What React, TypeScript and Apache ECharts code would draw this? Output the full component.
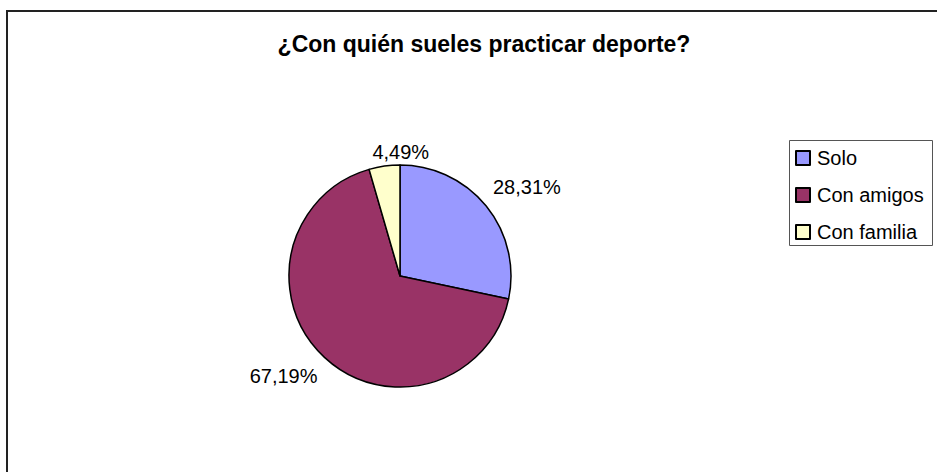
import React, { useEffect, useRef } from "react";
import * as echarts from "echarts";

const titleText = "¿Con quién sueles practicar deporte?";
const categories = ["Solo", "Con amigos", "Con familia"];
const values = [28.31, 67.19, 4.49];
const colors = ["#9999FF", "#993366", "#FFFFCC"];

// style: label placement nudges (px) relative to computed polar position
const labelNudges = [
  [6, 9],
  [-12, -12],
  [20, 12],
];

const FONT = "'Liberation Sans', Arial, Helvetica, sans-serif";

export default function App() {
  const ref = useRef<HTMLDivElement>(null);

  useEffect(() => {
    if (!ref.current) return;
    const chart = echarts.init(ref.current, null, { renderer: "svg" });
    const cx = 400;
    const cy = 276;
    const r = 111;
    const total = values.reduce((a, b) => a + b, 0);
    const mids: number[] = [];
    let cum = 0;
    values.forEach((v) => {
      mids.push(((cum + v / 2) / total) * 2 * Math.PI);
      cum += v;
    });

    chart.setOption({
      animation: false,
      backgroundColor: "#ffffff",
      title: {
        text: titleText,
        left: 479,
        textAlign: "center",
        top: 27,
        textStyle: {
          fontFamily: FONT,
          fontWeight: "bold",
          fontSize: 23,
          color: "#000",
        },
      },
      legend: {
        orient: "vertical",
        left: 795,
        top: 147,
        padding: 0,
        itemWidth: 14,
        itemHeight: 14,
        itemGap: 15,
        icon: "rect",
        data: categories,
        textStyle: {
          fontFamily: FONT,
          fontSize: 20,
          lineHeight: 22,
          color: "#000",
          padding: [0, 0, 0, 2],
        },
      },
      graphic: [
        {
          type: "rect",
          shape: { x: 7, y: 11, width: 960, height: 500 },
          style: { fill: "none", stroke: "#222", lineWidth: 2 },
          silent: true,
        },
        {
          type: "rect",
          shape: { x: 789.5, y: 140.5, width: 143, height: 105 },
          style: { fill: "none", stroke: "#555", lineWidth: 1 },
          silent: true,
        },
      ],
      series: [
        {
          type: "pie",
          center: [cx, cy],
          radius: r,
          startAngle: 90,
          clockwise: true,
          data: categories.map((name, i) => ({
            name,
            value: values[i],
            itemStyle: { color: colors[i] },
          })),
          itemStyle: { borderColor: "#000", borderWidth: 1.5 },
          emphasis: { disabled: true },
          label: {
            show: true,
            position: "outside",
            formatter: (p: any) =>
              values[p.dataIndex].toFixed(2).replace(".", ",") + "%",
            fontFamily: FONT,
            fontSize: 20,
            color: "#000",
          },
          labelLine: { show: false },
          labelLayout: (params: any) => {
            const i = params.dataIndex;
            const a = mids[i];
            const ux = Math.sin(a);
            const uy = -Math.cos(a);
            const w = params.labelRect.width;
            const h = params.labelRect.height;
            const ext = (w / 2) * Math.abs(ux) + (h / 2) * Math.abs(uy);
            const d = r + 12 + ext;
            return {
              x: cx + ux * d + labelNudges[i][0],
              y: cy + uy * d + labelNudges[i][1],
              align: "center",
              verticalAlign: "middle",
            };
          },
        },
      ],
    });
    return () => chart.dispose();
  }, []);

  return (
    <div
      ref={ref}
      style={{ position: "absolute", left: 0, top: 0, width: 937, height: 472 }}
    />
  );
}
